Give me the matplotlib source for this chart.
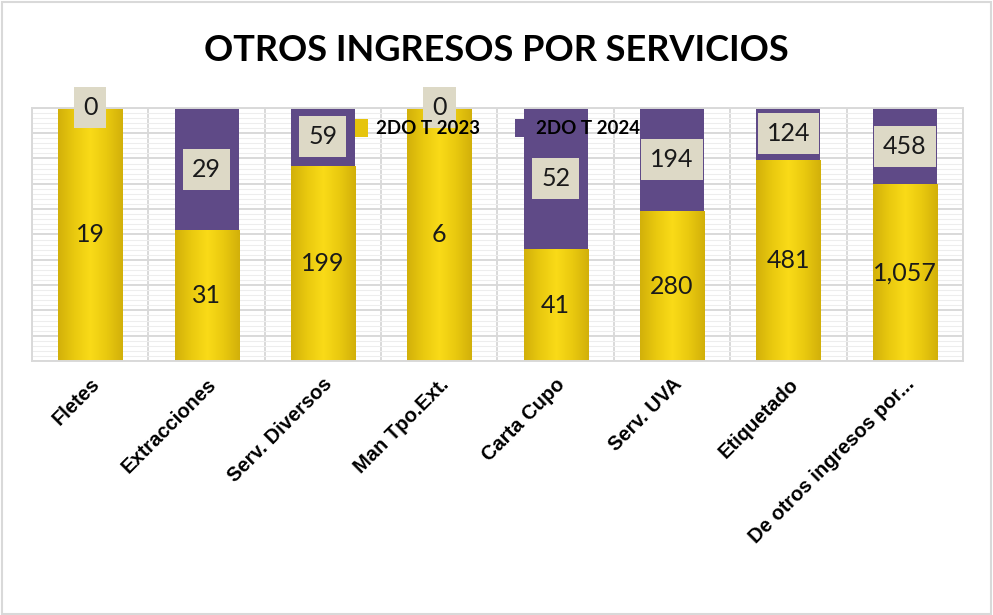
import matplotlib
matplotlib.use("Agg")
import matplotlib.pyplot as plt
import numpy as np
from matplotlib.colors import LinearSegmentedColormap
from matplotlib.patches import Rectangle

# ----------------------------
# DATOS
# ----------------------------
categorias = ["Fletes", "Extracciones", "Serv. Diversos", "Man Tpo.Ext.",
              "Carta Cupo", "Serv. UVA", "Etiquetado", "De otros ingresos por..."]
t2023 = [19, 31, 199, 6, 41, 280, 481, 1057]
t2024 = [0, 29, 59, 0, 52, 194, 124, 458]
series = ["2DO T 2023", "2DO T 2024"]

ORO = "#E6C40C"
MORADO = "#5F4A87"
CAJA = "#DDD9C6"

a = np.array(t2023, dtype=float)
b = np.array(t2024, dtype=float)
total = a + b
pa = a / total
pb = b / total

fig = plt.figure(figsize=(9.93, 6.15), dpi=100)
ax = fig.add_axes([0.0322, 0.413, 0.9376, 0.4116])

x = np.arange(len(categorias))
ancho = 0.55

barras_oro = ax.bar(x, pa, ancho, color=ORO, zorder=2, label=series[0])
barras_mor = ax.bar(x, pb, ancho, bottom=pa, color=MORADO, zorder=2, label=series[1])

# degradado tipo cilindro en las barras doradas
cmap_oro = LinearSegmentedColormap.from_list(
    "oro", ["#D2B00A", "#E9C90F", "#FADB18", "#E9C90F", "#D2B00A"])
grad = np.linspace(0, 1, 256).reshape(1, -1)
for rect in barras_oro:
    x0 = rect.get_x()
    w = rect.get_width()
    h = rect.get_height()
    im = ax.imshow(grad, cmap=cmap_oro, aspect="auto",
                   extent=[x0, x0 + w, 0, h], zorder=2.5)
    im.set_clip_path(rect)

# rejilla
ax.set_xlim(-0.5, len(categorias) - 0.5)
ax.set_ylim(0, 1)
ax.set_yticks(np.arange(0, 1.01, 0.1))
ax.set_yticks(np.arange(0, 1.01, 0.02), minor=True)
ax.set_xticks(np.arange(-0.5, len(categorias), 1.0), minor=True)
ax.grid(axis="y", which="minor", color="#EDEDED", lw=0.8, zorder=0)
ax.grid(axis="y", which="major", color="#D9D9D9", lw=1.4, zorder=0.5)
ax.grid(axis="x", which="minor", color="#D9D9D9", lw=1.4, zorder=0.5)
ax.tick_params(axis="y", which="both", left=False, labelleft=False)
ax.tick_params(axis="x", which="both", bottom=False, length=0)
for s in ax.spines.values():
    s.set_color("#D9D9D9")
    s.set_linewidth(1.4)

ax.set_xticks(x)
ax.set_xticklabels(categorias, rotation=45, ha="right", rotation_mode="anchor",
                   fontsize=14.5, fontweight="bold", family="Liberation Sans")
for lbl in ax.get_xticklabels():
    lbl.set_y(-0.035)

# etiquetas de datos
for i in range(len(categorias)):
    ax.text(x[i], pa[i] / 2, f"{int(a[i]):,}", ha="center", va="center",
            fontsize=18, family="Lato", color="#1a1a1a", zorder=5)
    yb = pa[i] + pb[i] / 2 if b[i] > 0 else 1.0
    ax.text(x[i], yb, f"{int(b[i]):,}", ha="center", va="center",
            fontsize=18, family="Lato", color="#1a1a1a", zorder=5,
            bbox=dict(boxstyle="square,pad=0.36", fc=CAJA, ec="none"),
            clip_on=False)

# leyenda
leg = ax.legend(loc="center", bbox_to_anchor=(0.5, 0.92), ncol=2, frameon=False,
                handlelength=0.7, handleheight=1.1, handletextpad=0.4,
                columnspacing=1.9, prop={"family": "Lato", "weight": "bold", "size": 13.5})
leg.set_zorder(6)

fig.suptitle("OTROS INGRESOS POR SERVICIOS", x=0.5, y=0.945,
             fontsize=26, fontweight="bold", family="Lato")

# marco de la figura
fig.patches.append(Rectangle((0.002, 0.002), 0.996, 0.995, transform=fig.transFigure,
                             fill=False, ec="#D9D9D9", lw=1.5))

fig.savefig("out.png", dpi=100)
